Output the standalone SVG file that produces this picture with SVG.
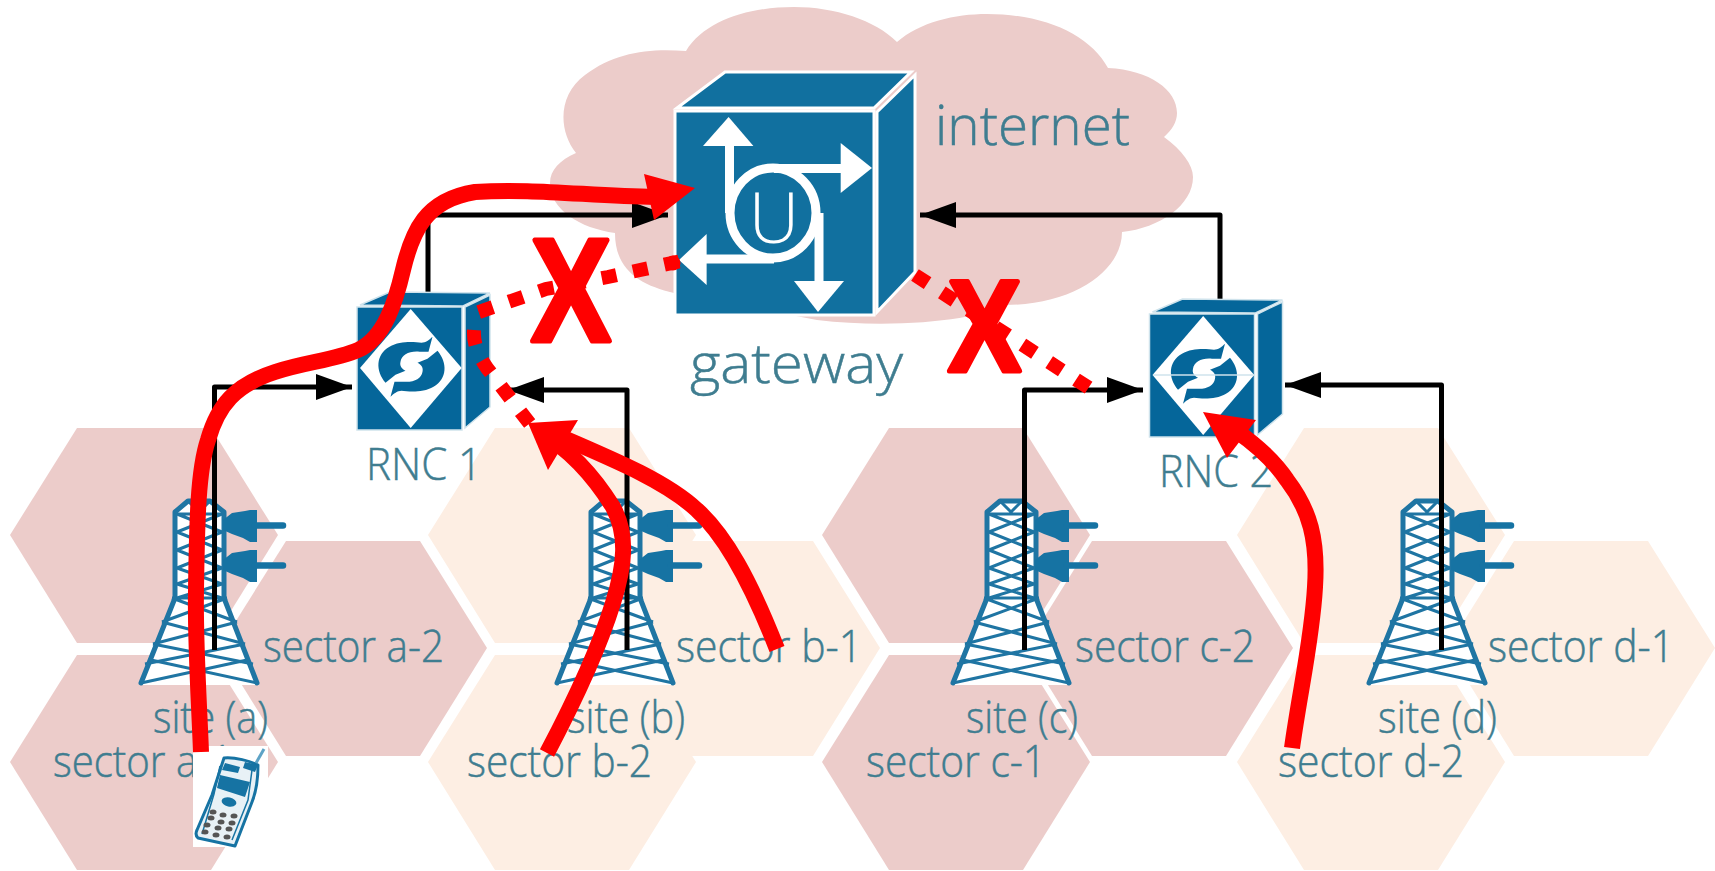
<svg xmlns="http://www.w3.org/2000/svg" width="1715" height="871" viewBox="0 0 1715 871">
<style>
.pink{fill:#ecccca}
.cream{fill:#fdeee3}
.lbl{font-family:"Open Sans","Noto Sans",sans-serif;font-weight:300;fill:#3f7d90;stroke:#3f7d90;stroke-width:.5}
.s{font-size:45px}
.b{font-size:56px}
.blk{fill:none;stroke:#000;stroke-width:5;stroke-linejoin:round}
.red{fill:none;stroke:#f00;stroke-width:16}
.dot{fill:none;stroke:#f00;stroke-width:14;stroke-dasharray:15 17}
.rh{fill:#f00}
.xm{font-family:"Liberation Sans",Arial,sans-serif;font-weight:700;fill:#f00;stroke:#f00;stroke-width:5;stroke-linejoin:round}
.gw{fill:#11709f;stroke:#fff;stroke-width:3}
.rn{fill:#05669a;stroke:#cfe3ec;stroke-width:1.5}
.lat{fill:none;stroke:#1f75a3;stroke-width:3}
.tside{fill:none;stroke:#1f75a3;stroke-width:5;stroke-linejoin:round;stroke-linecap:round}
.wt{fill:#fff}
.ws{fill:none;stroke:#fff}
.key{fill:#555}
</style>
<defs>
<polygon id="hex" points="0,107 67,0 201,0 268,107 201,215 67,215"/>
<marker id="ah" markerUnits="userSpaceOnUse" markerWidth="38" markerHeight="28" refX="36" refY="13" orient="auto"><polygon points="0,0 36,13 0,26" fill="#000"/></marker>
<g id="tower">
<path class="wt" d="M175,512 L188,501 H210 L224,512 V598 L258,685 H140 L175,598 Z"/>
<path class="lat" d="M177,514 H222 M177,514 L222,532 M222,514 L177,532 M177,532 L222,550 M222,532 L177,550 M177,550 L222,568 M222,550 L177,568 M177,568 L222,584 M222,568 L177,584 M177,584 L222,598 M222,584 L177,598 M172,598 H227 M172,598 L237,622 M227,598 L162,622 M162,622 L245,644 M237,622 L153,644 M153,644 L253,664 M245,644 L145,664 M141,683 L247,660 M257,683 L151,660 M188,501 L199,512 L210,501"/>
<path class="tside" d="M141,683 L175,598 V512 L188,501 H210 L224,512 V598 L257,683"/>
<path fill="#1673a3" d="M223,520 L232,513 L245,511 L250,510 H257 V542 H250 L243,538 L232,534 L223,530 Z"/>
<path fill="#1673a3" d="M223,560 L232,553 L245,551 L250,550 H257 V582 H250 L243,578 L232,574 L223,570 Z"/>
<path fill="none" stroke="#1673a3" stroke-width="6.5" stroke-linecap="round" d="M255,525.500 H283 M255,565.500 H283"/>
</g>
<g id="rnc">
<polygon class="rn" points="360,305 390,292 490,293 463,306"/>
<polygon class="rn" points="465,307 490,295 490,407 465,428"/>
<rect class="rn" x="357" y="307" width="105" height="123"/>
<polygon class="wt" points="410.700,309 461.700,368 410.700,428 360,368"/>
<g fill="#05669a">
<path transform="translate(411.500,366.700)" d="M-26,16 C-36,4 -36,-12 -22,-20 C-12,-26 2,-25 10,-24 C14,-24 18,-27 21,-30 L17,-15 L8,-15 C-2,-16 -10,-12 -11,-5 C-12,-1 -10,2 -6,4 L-16,8 Z"/>
<path transform="translate(411.500,366.700) rotate(180)" d="M-26,16 C-36,4 -36,-12 -22,-20 C-12,-26 2,-25 10,-24 C14,-24 18,-27 21,-30 L17,-15 L8,-15 C-2,-16 -10,-12 -11,-5 C-12,-1 -10,2 -6,4 L-16,8 Z"/>
</g>
</g>
</defs>
<rect width="1715" height="871" fill="#fff"/>
<g id="cells">
<use href="#hex" class="pink" x="10" y="428"/>
<use href="#hex" class="pink" x="10" y="655"/>
<use href="#hex" class="pink" x="219" y="541"/>
<use href="#hex" class="cream" x="428" y="428"/>
<use href="#hex" class="cream" x="428" y="655"/>
<use href="#hex" class="cream" x="612" y="541"/>
<use href="#hex" class="pink" x="822" y="428"/>
<use href="#hex" class="pink" x="822" y="655"/>
<use href="#hex" class="pink" x="1025" y="541"/>
<use href="#hex" class="cream" x="1237" y="428"/>
<use href="#hex" class="cream" x="1237" y="655"/>
<use href="#hex" class="cream" x="1447" y="541"/>
</g>
<g id="internet">
<path class="pink" d="M576,153 C558,130 558,95 585,75 C615,52 650,48 686,51 C705,20 750,7 794,7 C835,7 875,20 897,42 C920,22 955,14 987,14 C1045,14 1090,35 1108,68 C1150,70 1177,90 1177,113 C1177,122 1172,130 1164,137 C1182,150 1193,165 1193,177 C1193,205 1160,228 1122,232 C1122,270 1075,305 1005,305 C985,318 900,330 817,320 L674,293 C640,285 615,270 615,233 C580,228 550,210 550,183 C550,170 560,160 576,153 Z"/>
<text class="lbl b" x="935" y="145" textLength="195" lengthAdjust="spacingAndGlyphs">internet</text>
</g>
<g id="sites">
<g id="site-a"><use href="#tower"/><text class="lbl s" x="153" y="733" textLength="115" lengthAdjust="spacingAndGlyphs">site (a)</text></g>
<g id="site-b"><use href="#tower" x="416"/><text class="lbl s" x="567" y="733" textLength="118" lengthAdjust="spacingAndGlyphs">site (b)</text></g>
<g id="site-c"><use href="#tower" x="812"/><text class="lbl s" x="966" y="733" textLength="112" lengthAdjust="spacingAndGlyphs">site (c)</text></g>
<g id="site-d"><use href="#tower" x="1228"/><text class="lbl s" x="1378" y="733" textLength="119" lengthAdjust="spacingAndGlyphs">site (d)</text></g>
</g>
<g id="sectors">
<text class="lbl s" x="263" y="662" textLength="181" lengthAdjust="spacingAndGlyphs">sector a-2</text>
<text class="lbl s" x="53" y="777" textLength="180" lengthAdjust="spacingAndGlyphs">sector a-1</text>
<text class="lbl s" x="676" y="662" textLength="186" lengthAdjust="spacingAndGlyphs">sector b-1</text>
<text class="lbl s" x="467" y="777" textLength="185" lengthAdjust="spacingAndGlyphs">sector b-2</text>
<text class="lbl s" x="1075" y="662" textLength="180" lengthAdjust="spacingAndGlyphs">sector c-2</text>
<text class="lbl s" x="866" y="777" textLength="180" lengthAdjust="spacingAndGlyphs">sector c-1</text>
<text class="lbl s" x="1488" y="662" textLength="186" lengthAdjust="spacingAndGlyphs">sector d-1</text>
<text class="lbl s" x="1278" y="777" textLength="186" lengthAdjust="spacingAndGlyphs">sector d-2</text>
</g>
<g id="gateway">
<polygon class="gw" points="677,108 725,72 911,72 874,108"/>
<polygon class="gw" points="877,112 915,75 915,272 877,312"/>
<rect class="gw" x="675" y="111" width="199" height="204"/>
<ellipse class="ws" cx="773" cy="213" rx="43" ry="45" stroke-width="9"/>
<path class="ws" stroke-width="9" d="M729.500,146 V213 M774,168.500 H841 M819,281 V213 M706,259 H774"/>
<polygon class="wt" points="728.600,117 753.400,146 703,146"/>
<polygon class="wt" points="872,168 840.700,193 840.700,143"/>
<polygon class="wt" points="818,312 794,281 844,281"/>
<polygon class="wt" points="679,260 706.600,234 706.600,285"/>
<text x="774" y="243" text-anchor="middle" font-family="Open Sans, Noto Sans, sans-serif" font-weight="300" font-size="70" fill="#fff">U</text>
<text class="lbl b" x="690" y="383" textLength="213" lengthAdjust="spacingAndGlyphs">gateway</text>
</g>
<g id="connectors">
<path class="blk" marker-end="url(#ah)" d="M214.500,650 V387 H352"/>
<path class="blk" marker-end="url(#ah)" d="M627,650 V390 H508"/>
<path class="blk" marker-end="url(#ah)" d="M1024.500,650 V390 H1143"/>
<path class="blk" marker-end="url(#ah)" d="M1441.500,650 V385 H1285"/>
<path class="blk" marker-end="url(#ah)" d="M428,295 V215 H668"/>
<path class="blk" marker-end="url(#ah)" d="M1220,300 V215 H920"/>
</g>
<g id="rnc-1"><use href="#rnc"/><text class="lbl" font-size="45" x="366" y="480" textLength="116" lengthAdjust="spacingAndGlyphs">RNC 1</text></g>
<g id="rnc-2"><use href="#rnc" x="792.500" y="7"/><path d="M1153,375 H1254" stroke="#cfe3ec" stroke-width="1.500"/><text class="lbl" font-size="45" x="1159" y="487" textLength="114" lengthAdjust="spacingAndGlyphs">RNC 2</text></g>
<g id="phone">
<rect x="193" y="746" width="75" height="101" fill="#fff"/>
<path fill="#e8f1f6" stroke="#1673a3" stroke-width="3" stroke-linejoin="round" d="M224,758 C235,757 250,761 258,765 C258,780 256,792 252,802 L235,846 L198,838 C196,836 195,834 197,830 L212,795 Z"/>
<path fill="none" stroke="#1673a3" stroke-width="1.500" d="M220,766 L214,794 L202,834 M252,770 L248,800 L232,840"/>
<path fill="none" stroke="#5ea3c6" stroke-width="3" d="M256,763 L264,749"/>
<path fill="#1673a3" d="M220,775 L250,782 L245,797 L217,788 Z M225,763 L240,767 L238,773 L222,770 Z M245,762 L258,765 L255,772 L243,768 Z"/>
<ellipse cx="229" cy="802" rx="7.500" ry="4.500" fill="#1673a3" transform="rotate(12 229 802)"/>
<g class="key">
<ellipse cx="213" cy="812" rx="3.500" ry="2.500"/><ellipse cx="223" cy="815" rx="3.500" ry="2.500"/><ellipse cx="234" cy="816" rx="3.500" ry="2.500"/>
<ellipse cx="211" cy="818" rx="3.500" ry="2.500"/><ellipse cx="221" cy="822" rx="3.500" ry="2.500"/><ellipse cx="232" cy="823" rx="3.500" ry="2.500"/>
<ellipse cx="207" cy="825" rx="3.500" ry="2.500"/><ellipse cx="218" cy="828" rx="3.500" ry="2.500"/><ellipse cx="229" cy="829" rx="3.500" ry="2.500"/>
<ellipse cx="205" cy="832" rx="3.500" ry="2.500"/><ellipse cx="216" cy="835" rx="3.500" ry="2.500"/><ellipse cx="227" cy="837" rx="3.500" ry="2.500"/>
</g>
</g>
<g id="failed-links">
<path class="dot" d="M679,261.500 L608,277 L546,289 L476,313"/>
<circle cx="673" cy="263" r="7.500" fill="#f00"/>
<path class="dot" d="M474,330 C473,345 480,358 487,368 L530,424"/>
<path class="dot" d="M915,275 L1089,388"/>
<text class="xm" x="531" y="341" font-size="146" textLength="80" lengthAdjust="spacingAndGlyphs">X</text>
<text class="xm" x="948" y="371" font-size="129" textLength="73" lengthAdjust="spacingAndGlyphs">X</text>
</g>
<g id="paths">
<path class="red" d="M201,752 C199,700 195,640 196,590 C197,520 198,470 208,440 C218,405 235,385 275,372 C305,362 335,360 358,350 C385,338 396,300 403,270 C412,232 425,200 475,192 C530,188 590,196 655,197"/>
<polygon class="rh" points="695,188 644,174 654,220"/>
<path class="red" d="M777,649 C750,580 725,535 697,510 C665,480 610,458 545,430"/>
<path class="red" d="M547,753 C575,700 600,645 613,603 C625,565 628,535 613,507 C595,478 570,450 540,432"/>
<polygon class="rh" points="528,423 578,420 548,470"/>
<path class="red" d="M1292,748 C1300,690 1312,640 1315,587 C1318,540 1310,510 1287,480 C1275,462 1258,446 1235,430"/>
<polygon class="rh" points="1203,412 1256,420 1227,458"/>
</g>
</svg>
